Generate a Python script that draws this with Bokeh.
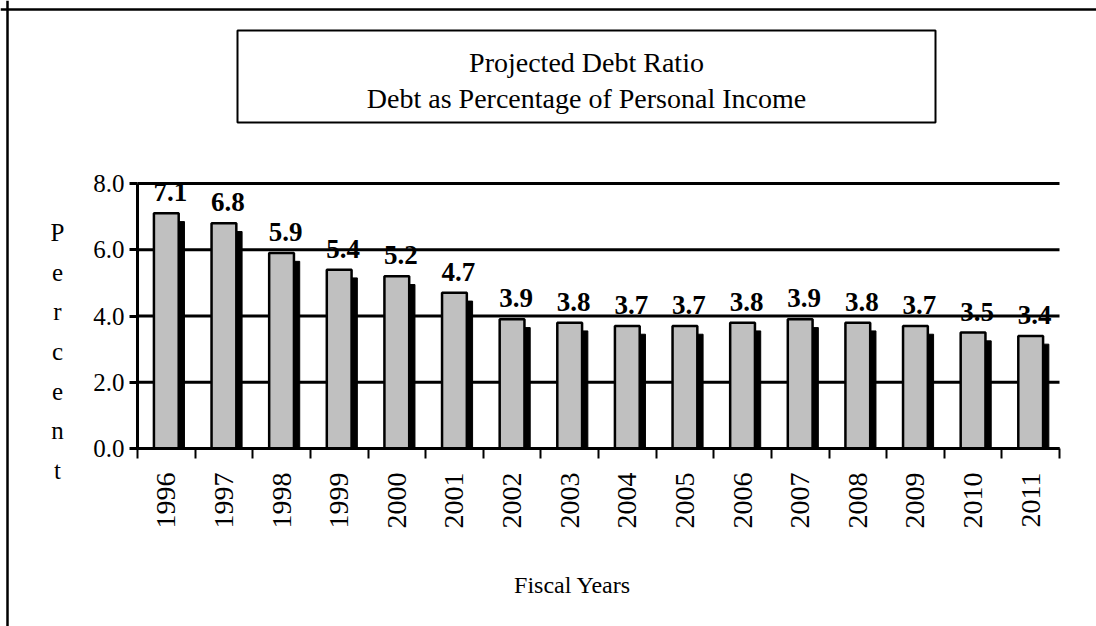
import math
from bokeh.plotting import figure
from bokeh.models import (Range1d, FixedTicker, LinearAxis, ColumnDataSource, LabelSet,
                          Label, BoxAnnotation, NumeralTickFormatter, Span)
from bokeh.transform import dodge
from bokeh.embed import file_html
from bokeh.resources import INLINE

years = ["1996", "1997", "1998", "1999", "2000", "2001", "2002", "2003",
         "2004", "2005", "2006", "2007", "2008", "2009", "2010", "2011"]
ratios = [7.1, 6.8, 5.9, 5.4, 5.2, 4.7, 3.9, 3.8, 3.7, 3.7, 3.8, 3.9, 3.8, 3.7, 3.5, 3.4]
y_ticks = [0, 2, 4, 6, 8]
title_lines = ["Projected Debt Ratio", "Debt as Percentage of Personal Income"]
y_title = "Percent"
x_title = "Fiscal Years"

FONT = "'Liberation Serif', 'Times New Roman', serif"
W, H = 1096, 626
# plot area edges on the canvas (pixels)
PL, PR, PT, PB = 137, 1059, 183, 448
n = len(years)
ymax = 8.0
xs = (PR - PL) / n
ys = (PB - PT) / ymax

x_range = Range1d(-PL / xs, n + (W - PR) / xs)
y_range = Range1d(-(H - PB) / ys, ymax + PT / ys)


def sy(cy):
    return H - cy


centers = [i + 0.5 for i in range(n)]
bounds = [float(i) for i in range(n + 1)]

src = ColumnDataSource(dict(
    x=centers,
    top=ratios,
    shadow_top=[v - 0.25 for v in ratios],
    lab=[f"{v:.1f}" for v in ratios],
))
grid_src = ColumnDataSource(dict(y=y_ticks, x0=[0] * len(y_ticks), x1=[n] * len(y_ticks)))

p = figure(width=W, height=H, output_backend="svg", toolbar_location=None,
           x_range=x_range, y_range=y_range,
           min_border=0, min_border_left=0, min_border_right=0,
           min_border_top=0, min_border_bottom=0,
           x_axis_type=None, y_axis_type=None)
p.outline_line_color = None
p.background_fill_color = "white"
p.border_fill_color = "white"
p.xgrid.visible = False
p.ygrid.visible = False

# grid lines across the plot area
p.segment(x0="x0", x1="x1", y0="y", y1="y", source=grid_src,
          line_color="black", line_width=3)

# shadow then bars
p.vbar(x=dodge("x", 0.09), top="shadow_top", bottom=0, width=0.45, source=src,
       fill_color="black", line_color="black", line_width=1)
p.vbar(x="x", top="top", bottom=0, width=0.43, source=src,
       fill_color="#c0c0c0", line_color="black", line_width=2.5)

# y axis
yax = LinearAxis(ticker=FixedTicker(ticks=y_ticks), fixed_location=0, bounds=(0, ymax))
yax.formatter = NumeralTickFormatter(format="0.0")
yax.axis_line_width = 3
yax.axis_line_color = "black"
yax.major_tick_line_width = 3
yax.major_tick_out = 8
yax.major_tick_in = 0
yax.minor_tick_line_color = None
yax.major_label_text_font = FONT
yax.major_label_text_font_size = "25px"
yax.major_label_text_color = "black"
yax.major_label_standoff = 5
p.add_layout(yax, "left")

# x axis: boundary ticks (minor), labels at centers
xax = LinearAxis(ticker=FixedTicker(ticks=centers, minor_ticks=bounds),
                 fixed_location=0, bounds=(0, n))
xax.major_label_overrides = {c: y for c, y in zip(centers, years)}
xax.axis_line_width = 3
xax.axis_line_color = "black"
xax.major_tick_line_color = None
xax.minor_tick_line_color = "black"
xax.minor_tick_line_width = 2
xax.minor_tick_out = 10
xax.minor_tick_in = 0
xax.major_label_orientation = math.pi / 2
xax.major_label_text_font = FONT
xax.major_label_text_font_size = "28px"
xax.major_label_text_color = "black"
xax.major_label_standoff = 14
p.add_layout(xax, "below")

labels = LabelSet(x="x", y="top", text="lab", source=src, x_offset=4, y_offset=12,
                  text_align="center", text_baseline="bottom",
                  text_font=FONT, text_font_style="bold", text_font_size="27px",
                  text_color="black")
p.add_layout(labels)

# outer border: top and left edges as spans across the canvas
p.add_layout(Span(location=sy(9), location_units="screen", dimension="width",
                  line_color="black", line_width=2.5, level="overlay"))
p.add_layout(Span(location=7, location_units="screen", dimension="height",
                  line_color="black", line_width=2.5, level="overlay"))
# title box
p.add_layout(BoxAnnotation(left=237, right=935, top=sy(30), bottom=sy(122),
                           left_units="screen", right_units="screen",
                           top_units="screen", bottom_units="screen",
                           fill_color="white", fill_alpha=1.0,
                           line_color="black", line_width=2, line_alpha=1,
                           level="overlay"))
for line, cy in zip(title_lines, [62, 98]):
    p.add_layout(Label(x=586, y=sy(cy), x_units="screen", y_units="screen",
                       text=line, text_align="center", text_baseline="middle",
                       text_font=FONT, text_font_size="28px", text_color="black",
                       level="overlay"))

p.add_layout(Label(x=57, y=sy(351), x_units="screen", y_units="screen",
                   text="\n".join(y_title), text_align="center", text_baseline="middle",
                   text_line_height=1.47,
                   text_font=FONT, text_font_size="25px", text_color="black",
                   level="overlay"))

p.add_layout(Label(x=572, y=sy(584), x_units="screen", y_units="screen",
                   text=x_title, text_align="center", text_baseline="middle",
                   text_font=FONT, text_font_size="24px", text_color="black",
                   level="overlay"))

open("out.html", "w").write(file_html(p, INLINE))
